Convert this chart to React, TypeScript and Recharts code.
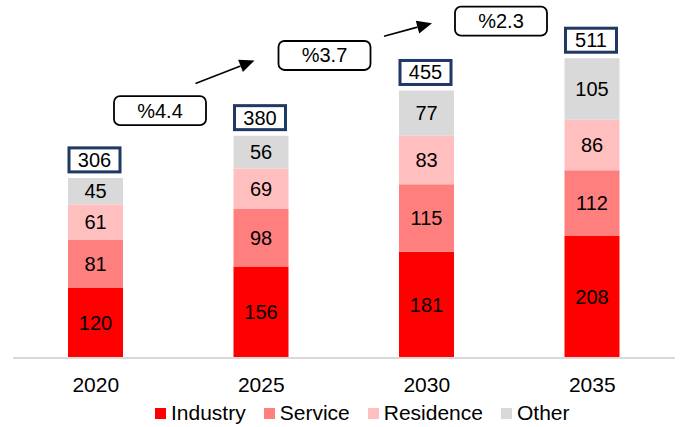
import React from 'react';
import { BarChart, Bar, XAxis, YAxis, LabelList, Legend } from 'recharts';

// Electricity demand by sector (TWh)
const years = ['2020', '2025', '2030', '2035'];
const industry = [120, 156, 181, 208];
const service = [81, 98, 115, 112];
const residence = [61, 69, 83, 86];
const other = [45, 56, 77, 105];
const totals = [306, 380, 455, 511];
const growth = ['', '%4.4', '%3.7', '%2.3'];

const series = [
  { key: 'industry', name: 'Industry', color: '#FF0000' },
  { key: 'service', name: 'Service', color: '#FF7F7F' },
  { key: 'residence', name: 'Residence', color: '#FFBFBF' },
  { key: 'other', name: 'Other', color: '#D9D9D9' },
];

const data = years.map((year, i) => ({
  year,
  industry: industry[i],
  service: service[i],
  residence: residence[i],
  other: other[i],
  total: totals[i],
  growth: growth[i],
}));

// Placement of the growth-rate callouts relative to each stack's top centre
const GROWTH_POS = [null, { dx: -101, dy: -25 }, { dx: -102, dy: -35 }, { dx: -91, dy: -37 }];
// Arrow tip relative to the callout centre, and tail relative to the tip
const ARROW_POS = [
  null,
  null,
  { ex: -70, ey: 5, vx: -59, vy: 23 },
  { ex: -69, ey: 2, vx: -48, vy: 13 },
];

const FONT = '"Liberation Sans", Arial, sans-serif';

function Arrow({ x1, y1, x2, y2 }: { x1: number; y1: number; x2: number; y2: number }) {
  const dx = x2 - x1;
  const dy = y2 - y1;
  const len = Math.sqrt(dx * dx + dy * dy);
  const ux = dx / len;
  const uy = dy / len;
  const head = 15;
  const half = 6.5;
  const bx = x2 - ux * head;
  const by = y2 - uy * head;
  const nx = -uy;
  const ny = ux;
  return (
    <g>
      <line x1={x1} y1={y1} x2={bx} y2={by} stroke="#000" strokeWidth={1.6} />
      <polygon
        points={`${x2},${y2} ${bx + nx * half},${by + ny * half} ${bx - nx * half},${by - ny * half}`}
        fill="#000"
      />
    </g>
  );
}

function TotalLabel(props: any) {
  const { x, y, width, value } = props;
  let index = props.index;
  if (index === undefined) index = totals.indexOf(Number(value));
  const cx = x + width / 2;
  const g = GROWTH_POS[index];
  const a = ARROW_POS[index];
  let gx = 0;
  let gy = 0;
  if (g) {
    gx = cx + g.dx;
    gy = y + g.dy;
  }
  return (
    <g>
      <rect
        x={x + 1}
        y={y - 30}
        width={width - 4}
        height={24}
        fill="#fff"
        stroke="#1F3864"
        strokeWidth={3}
      />
      <text x={x + width / 2 - 1} y={y - 11} textAnchor="middle" fontSize={20} fill="#000">
        {value}
      </text>
      {g && (
        <g>
          <rect
            x={gx - 46}
            y={gy - 14.5}
            width={92}
            height={29}
            rx={6}
            ry={6}
            fill="#fff"
            stroke="#000"
            strokeWidth={1.8}
          />
          <text x={gx} y={gy + 7} textAnchor="middle" fontSize={20} fill="#000">
            {data[index].growth}
          </text>
        </g>
      )}
      {g && a && (
        <Arrow x1={gx + a.ex + a.vx} y1={gy + a.ey + a.vy} x2={gx + a.ex} y2={gy + a.ey} />
      )}
    </g>
  );
}

function YearTick(props: any) {
  const { x, y, payload } = props;
  return (
    <text x={x} y={y + 33.5} textAnchor="middle" fontSize={21} fill="#000">
      {payload.value}
    </text>
  );
}

function LegendContent() {
  return (
    <div style={{ display: 'flex', alignItems: 'center', height: 24, fontSize: 21, color: '#000' }}>
      {series.map((s) => (
        <div key={s.key} style={{ display: 'flex', alignItems: 'center', marginRight: 18 }}>
          <span style={{ display: 'inline-block', width: 11, height: 11, background: s.color, marginRight: 5 }} />
          <span>{s.name}</span>
        </div>
      ))}
    </div>
  );
}

export default function App() {
  return (
    <div style={{ position: 'absolute', left: 0, top: 0, fontFamily: FONT, background: '#fff' }}>
      <BarChart
        width={680}
        height={427}
        data={data}
        margin={{ top: 6, right: 5, left: 13, bottom: 15 }}
        style={{ fontFamily: FONT }}
      >
        <YAxis hide domain={[0, 600]} />
        <XAxis
          dataKey="year"
          axisLine={{ stroke: '#D9D9D9', strokeWidth: 2 }}
          tickLine={false}
          tickSize={0}
          tickMargin={0}
          height={30}
          tick={<YearTick />}
        />
        <Legend
          content={<LegendContent />}
          verticalAlign="bottom"
          wrapperStyle={{ left: 155, top: 401, width: 'auto', height: 24 }}
        />
        {series.map((s, i) => (
          <Bar
            key={s.key}
            dataKey={s.key}
            name={s.name}
            stackId="demand"
            fill={s.color}
            barSize={55}
            isAnimationActive={false}
          >
            <LabelList dataKey={s.key} position="center" fill="#000" fontSize={20} />
            {i === series.length - 1 && <LabelList dataKey="total" content={<TotalLabel />} />}
          </Bar>
        ))}
      </BarChart>
    </div>
  );
}
